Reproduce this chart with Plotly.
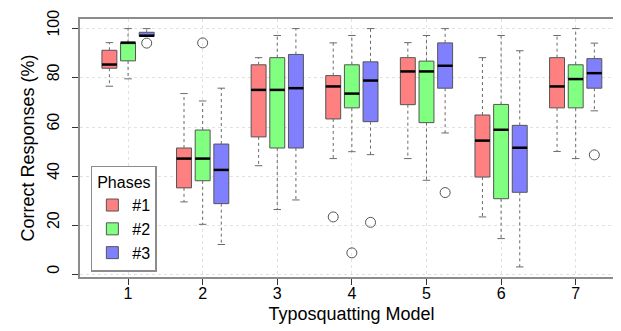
import plotly.graph_objects as go

models = [1, 2, 3, 4, 5, 6, 7]
phases = ["#1", "#2", "#3"]
colors = ["#FF8080", "#80FF80", "#8080FF"]

# per phase: lists over models 1..7
lower = {
    "#1": [76.6, 29.6, 44.3, 47.2, 47.2, 23.5, 50.1],
    "#2": [79.6, 20.5, 26.5, 50.0, 38.4, 14.7, 47.2],
    "#3": [96.9, 12.3, 30.4, 48.8, 57.6, 3.2, 66.6],
}
q1 = {
    "#1": [83.9, 35.3, 56.0, 63.3, 69.1, 39.7, 67.8],
    "#2": [86.9, 38.2, 51.5, 67.8, 61.8, 30.9, 67.8],
    "#3": [96.9, 28.9, 51.5, 62.2, 75.8, 33.5, 75.8],
}
median = {
    "#1": [85.4, 47.2, 75.1, 76.5, 82.6, 54.5, 76.5],
    "#2": [94.3, 47.2, 75.1, 73.6, 82.6, 58.9, 79.5],
    "#3": [97.1, 42.6, 75.8, 78.9, 84.9, 51.6, 81.9],
}
q3 = {
    "#1": [91.2, 51.5, 85.3, 80.9, 88.2, 64.9, 88.2],
    "#2": [94.3, 58.8, 88.2, 85.3, 86.8, 69.2, 85.3],
    "#3": [98.5, 53.1, 89.5, 86.5, 94.2, 60.7, 87.8],
}
upper = {
    "#1": [94.3, 73.6, 88.2, 94.2, 94.3, 88.2, 97.2],
    "#2": [100.0, 70.6, 97.2, 97.2, 97.2, 97.2, 100.0],
    "#3": [100.0, 75.8, 100.0, 100.0, 100.0, 91.0, 94.1],
}
# outliers: (model, value)
outliers = {
    "#1": [(4, 23.5)],
    "#2": [(2, 94.2), (4, 8.9)],
    "#3": [(1, 94.1), (4, 21.3), (5, 33.4), (7, 48.7)],
}

offsets = [-0.25, 0.0, 0.25]
box_w = 0.2
cap_hw = 0.05
edge = "#555555"

fig = go.Figure()

for p, col, off in zip(phases, colors, offsets):
    xs = [m + off for m in models]
    fig.add_trace(go.Box(
        x=xs, q1=q1[p], median=median[p], q3=q3[p],
        lowerfence=q1[p], upperfence=q3[p],
        width=box_w, fillcolor=col, line=dict(color=edge, width=1),
        name=p, boxpoints=False, whiskerwidth=0, hoverinfo="skip",
    ))

for p, col, off in zip(phases, colors, offsets):
    wx, wy, cx, cy, mx, my = [], [], [], [], [], []
    for i, m in enumerate(models):
        xc = m + off
        if upper[p][i] > q3[p][i]:
            wx += [xc, xc, None]; wy += [q3[p][i], upper[p][i], None]
            cx += [xc - cap_hw, xc + cap_hw, None]; cy += [upper[p][i], upper[p][i], None]
        if lower[p][i] < q1[p][i]:
            wx += [xc, xc, None]; wy += [q1[p][i], lower[p][i], None]
            cx += [xc - cap_hw, xc + cap_hw, None]; cy += [lower[p][i], lower[p][i], None]
        mx += [xc - box_w / 2, xc + box_w / 2, None]; my += [median[p][i], median[p][i], None]
    fig.add_trace(go.Scatter(x=wx, y=wy, mode="lines", showlegend=False, hoverinfo="skip",
                             line=dict(color="#6a6a6a", width=1, dash="3px,3px")))
    fig.add_trace(go.Scatter(x=cx, y=cy, mode="lines", showlegend=False, hoverinfo="skip",
                             line=dict(color="#6a6a6a", width=1)))
    fig.add_trace(go.Scatter(x=mx, y=my, mode="lines", showlegend=False, hoverinfo="skip",
                             line=dict(color="black", width=2.5)))
    ox = [m + off for m, v in outliers[p]]
    oy = [v for m, v in outliers[p]]
    fig.add_trace(go.Scatter(x=ox, y=oy, mode="markers", showlegend=False, hoverinfo="skip",
                             marker=dict(symbol="circle-open", size=10, color="#555555",
                                         line=dict(width=1, color="#555555"))))

font = "Liberation Sans, Arial, sans-serif"
fig.update_layout(
    width=621, height=331,
    margin=dict(l=72, r=6, t=11, b=62, autoexpand=False),
    paper_bgcolor="white", plot_bgcolor="white",
    font=dict(family=font, size=16, color="black"),
    showlegend=True,
    legend=dict(
        x=0.02, y=0.02, xanchor="left", yanchor="bottom",
        bgcolor="white", bordercolor="#8c8c8c", borderwidth=1.5,
        title=dict(text="Phases", side="top center", font=dict(size=16)),
        font=dict(size=16), tracegroupgap=0, itemwidth=30,
    ),
    xaxis=dict(
        range=[0.356, 7.634], tickmode="array", tickvals=models,
        ticktext=[str(m) for m in models], automargin=False,
        showgrid=True, gridcolor="#e2e2e2", griddash="dot", gridwidth=1,
        zeroline=False, showline=True, linecolor="#8c8c8c", linewidth=1.5, mirror=True,
        ticks="outside", ticklen=6, tickcolor="#333333",
        tickfont=dict(size=16), ticklabelstandoff=-5,
        title=dict(text="Typosquatting Model", font=dict(size=18), standoff=6),
    ),
    yaxis=dict(
        range=[-0.9, 103.9], tickmode="array", tickvals=[0, 20, 40, 60, 80, 100],
        automargin=False,
        showgrid=True, gridcolor="#e2e2e2", griddash="dot", gridwidth=1,
        zeroline=False, showline=True, linecolor="#8c8c8c", linewidth=1.5, mirror=True,
        ticks="outside", ticklen=6, tickcolor="#333333", tickangle=-90,
        tickfont=dict(size=16), ticklabelstandoff=7, ticklabelshift=-3,
        ticklabeloverflow="allow",
        title=dict(text="Correct Responses (%)", font=dict(size=18), standoff=6),
    ),
)

fig.write_html("out.html")
